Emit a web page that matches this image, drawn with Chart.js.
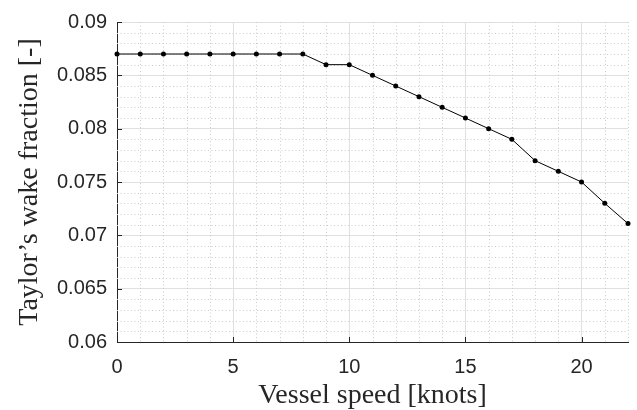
<!DOCTYPE html>
<html>
<head>
<meta charset="utf-8">
<script src="https://cdn.jsdelivr.net/npm/chart.js@4/dist/chart.umd.min.js"></script>
<style>
html,body{margin:0;padding:0;background:#fff;}
#wrap{width:637px;height:410px;}
</style>
</head>
<body>
<div id="wrap"><canvas id="c" width="637" height="410"></canvas></div>
<script>
const speeds = [0,1,2,3,4,5,6,7,8,9,10,11,12,13,14,15,16,17,18,19,20,21,22];
const wakeFraction = [0.087,0.087,0.087,0.087,0.087,0.087,0.087,0.087,0.087,0.086,0.086,0.085,0.084,0.083,0.082,0.081,0.080,0.079,0.077,0.076,0.075,0.073,0.0711];
const xTicks = [0,5,10,15,20];
const yTicks = [0.06,0.065,0.07,0.075,0.08,0.085,0.09];
const xTitle = 'Vessel speed [knots]';
const yTitle = 'Taylor\u2019s wake fraction [-]';

const minorPlugin = {
  id: 'minor',
  beforeDatasetsDraw(chart) {
    const {ctx, chartArea: a, scales: {x, y}} = chart;
    ctx.save();
    ctx.strokeStyle = '#cccccc';
    ctx.lineWidth = 1;
    ctx.setLineDash([1, 2.5]);
    for (let v = Math.ceil(x.min); v <= x.max; v++) {
      if (v % 5 === 0) continue;
      const px = Math.round(x.getPixelForValue(v)) + 0.5;
      ctx.beginPath(); ctx.moveTo(px, a.top); ctx.lineTo(px, a.bottom); ctx.stroke();
    }
    for (let i = 0; i <= 30; i++) {
      if (i % 5 === 0) continue;
      const v = y.min + i * 0.001;
      const py = Math.round(y.getPixelForValue(v)) + 0.5;
      ctx.beginPath(); ctx.moveTo(a.left, py); ctx.lineTo(a.right, py); ctx.stroke();
    }
    ctx.restore();
  },
  afterDatasetsDraw(chart) {
    const {ctx, chartArea: a, scales: {x, y}} = chart;
    ctx.save();
    ctx.strokeStyle = '#262626';
    ctx.lineWidth = 1;
    for (const v of xTicks) {
      const px = Math.round(x.getPixelForValue(v)) + 0.5;
      ctx.beginPath(); ctx.moveTo(px, a.bottom); ctx.lineTo(px, a.bottom - 5); ctx.stroke();
    }
    for (const v of yTicks) {
      const py = Math.round(y.getPixelForValue(v)) + 0.5;
      ctx.beginPath(); ctx.moveTo(a.left, py); ctx.lineTo(a.left + 5, py); ctx.stroke();
    }
    ctx.restore();
  }
};

new Chart(document.getElementById('c'), {
  type: 'line',
  data: {
    datasets: [{
      data: speeds.map((s, i) => ({x: s, y: wakeFraction[i]})),
      borderColor: '#000',
      backgroundColor: '#000',
      borderWidth: 1,
      pointRadius: 2.5,
      pointHoverRadius: 2.5,
      pointBorderWidth: 0,
      tension: 0,
      clip: false
    }]
  },
  options: {
    responsive: false,
    animation: false,
    events: [],
    layout: {padding: {top: 18, right: 9, left: 0, bottom: 0}},
    plugins: {legend: {display: false}, tooltip: {enabled: false}},
    scales: {
      x: {
        type: 'linear',
        min: 0, max: 22,
        afterBuildTicks: (s) => { s.ticks = xTicks.map(v => ({value: v})); },
        afterFit: (s) => { s.height = 68; },
        grid: {color: '#e0e0e0', lineWidth: 1, drawTicks: false},
        border: {display: true, color: '#262626', width: 1},
        ticks: {
          padding: 13,
          color: '#262626',
          font: {family: 'Liberation Sans', size: 20},
          callback: (v) => String(v)
        },
        title: {
          display: true, text: xTitle, color: '#262626',
          font: {family: 'Liberation Serif', size: 28, lineHeight: 1},
          padding: {top: 0, bottom: 0}
        }
      },
      y: {
        type: 'linear',
        min: 0.06, max: 0.09,
        afterBuildTicks: (s) => { s.ticks = yTicks.map(v => ({value: v})); },
        afterFit: (s) => { s.width = 117; },
        grid: {color: '#e0e0e0', lineWidth: 1, drawTicks: false},
        border: {display: true, color: '#262626', width: 1},
        ticks: {
          padding: 10,
          color: '#262626',
          font: {family: 'Liberation Sans', size: 20},
          callback: (v) => String(parseFloat(Number(v).toFixed(4)))
        },
        title: {
          display: true, text: yTitle, color: '#262626',
          font: {family: 'Liberation Serif', size: 28, lineHeight: 1},
          padding: {top: 16, bottom: 0}
        }
      }
    }
  },
  plugins: [minorPlugin]
});
</script>
</body>
</html>
